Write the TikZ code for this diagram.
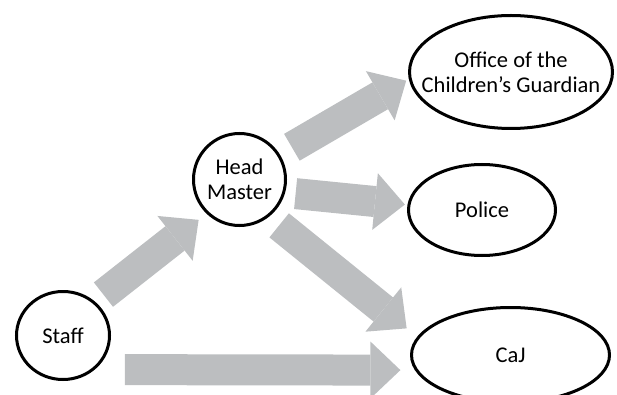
\documentclass[tikz,border=0pt]{standalone}
\usepackage{fontspec}
\setmainfont{Carlito}
\usepackage{tikz}
\usetikzlibrary{arrows.meta,shapes.geometric}
\definecolor{flowGrey}{RGB}{188,190,192}
\newcommand{\shaftWidth}[0]{31pt}
\newcommand{\ringWidth}[0]{3pt}
\newcommand{\partyFont}[0]{\fontsize{22.5}{25}\selectfont}

\begin{document}
\begin{tikzpicture}[x=1pt, y=-1pt]
  \tikzset{party/.style={ellipse, draw, line width=\ringWidth, inner sep=0pt, align=center, font=\partyFont},
    flow/.style={draw=flowGrey, line width=\shaftWidth, -{Triangle[length=30pt, width=57pt, line width=0pt]}}}
  \useasboundingbox (0,0) rectangle (617,395);
  \node[party, minimum width=93pt, minimum height=88pt] (staff) at (63,335.5) {Staff};
  \node[party, minimum width=92pt, minimum height=92pt] (head) at (239.5,179.5) {Head\\Master};
  \node[party, inner xsep=-20pt, minimum width=203pt, minimum height=113pt] (office) at (511,72) {Office of the\\Children's Guardian};
  \node[party, minimum width=147pt, minimum height=91pt] (police) at (482,210) {Police};
  \node[party, minimum width=198pt, minimum height=95pt] (caj) at (510.5,355) {CaJ};
  \draw[flow, shorten <=11pt, shorten >=10pt] (staff.47) -- (head.226);
  \draw[flow, shorten <=14pt, shorten >=3pt] (head.32) -- (office.184);
  \draw[flow, shorten <=10.5pt, shorten >=2.6pt] (head.344) -- (police.176);
  \draw[flow, shorten <=13.4pt, shorten >=13.5pt] (head.308) -- (caj.169);
  \draw[flow, shorten <=30pt, shorten >=14.5pt] (staff.313) -- (caj.189);
\end{tikzpicture}
\end{document}
